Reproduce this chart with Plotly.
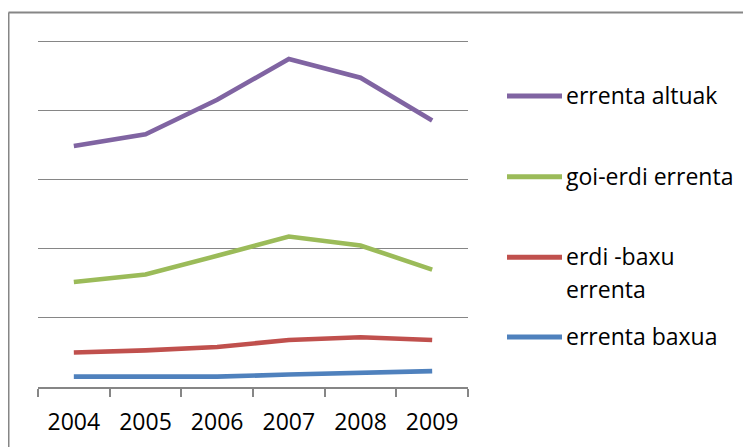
import plotly.graph_objects as go

years = ["2004", "2005", "2006", "2007", "2008", "2009"]
errenta_altuak = [3.49, 3.66, 4.16, 4.75, 4.48, 3.86]
goi_erdi_errenta = [1.52, 1.63, 1.90, 2.18, 2.05, 1.70]
erdi_baxu_errenta = [0.50, 0.53, 0.58, 0.68, 0.72, 0.68]
errenta_baxua = [0.15, 0.15, 0.15, 0.18, 0.20, 0.23]

series_names = ["errenta altuak", "goi-erdi errenta", "erdi -baxu<br>errenta", "errenta baxua"]
series_values = [errenta_altuak, goi_erdi_errenta, erdi_baxu_errenta, errenta_baxua]
colors = ["#8064A2", "#9BBB59", "#C0504D", "#4F81BD"]

W, H = 751, 447
OFF = 8  # default page body margin of the browser
Y_MAX = 5.04
L, R, B = 38, 468, 387          # plot area in page pixels
TOP_GRID = 41.3                 # pixel of the top gridline (value 5)
T = B - (B - TOP_GRID) * Y_MAX / 5
FONT = "Open Sans"

fig = go.Figure()
for name, vals, col in zip(series_names, series_values, colors):
    fig.add_trace(go.Scatter(
        x=years, y=vals, mode="lines", name=name.replace("<br>", " "),
        line=dict(color=col, width=4.6), showlegend=False,
    ))

def px_x(p):
    return (p - L) / (R - L)

def px_y(p):
    return (B - p) / (B - T)

shapes = [
    # outer chart frame (top and left edges visible)
    dict(type="line", xref="paper", yref="paper", x0=px_x(8.5), x1=px_x(770),
         y0=px_y(12), y1=px_y(12), line=dict(color="#868686", width=2)),
    dict(type="line", xref="paper", yref="paper", x0=px_x(8.5), x1=px_x(8.5),
         y0=px_y(12), y1=px_y(470), line=dict(color="#868686", width=2)),
]
annotations = []
legend_y = [95.7, 176.5, 257, 337]
for name, col, ly in zip(series_names, colors, legend_y):
    shapes.append(dict(type="line", xref="paper", yref="paper",
                       x0=px_x(507), x1=px_x(562), y0=px_y(ly), y1=px_y(ly),
                       line=dict(color=col, width=5)))
    for i, part in enumerate(name.split("<br>")):
        annotations.append(dict(
            xref="paper", yref="paper", x=px_x(564), y=px_y(ly + i * 33 - 1),
            text=part, showarrow=False, xanchor="left", yanchor="middle",
            font=dict(family=FONT, size=23, color="#000000"),
        ))

fig.update_layout(
    width=W, height=H,
    margin=dict(l=L - OFF, r=W - R + OFF, t=T - OFF, b=H - B + OFF, pad=0),
    paper_bgcolor="white", plot_bgcolor="white",
    font=dict(family=FONT, size=23, color="#000000"),
    shapes=shapes, annotations=annotations,
    xaxis=dict(
        type="category", range=[-0.5, 5.5], tickson="boundaries",
        ticks="outside", ticklen=8, tickcolor="#868686", tickwidth=1.5,
        showline=True, linecolor="#868686", linewidth=1.5,
        showgrid=False, zeroline=False, ticklabelstandoff=14,
        tickfont=dict(family=FONT, size=23, color="#000000"),
        fixedrange=True,
    ),
    yaxis=dict(
        range=[0, Y_MAX], dtick=1, showticklabels=False, showgrid=True,
        gridcolor="#868686", gridwidth=1.2, zeroline=False, showline=False,
        ticks="", fixedrange=True,
    ),
)

fig.write_html("out.html")
